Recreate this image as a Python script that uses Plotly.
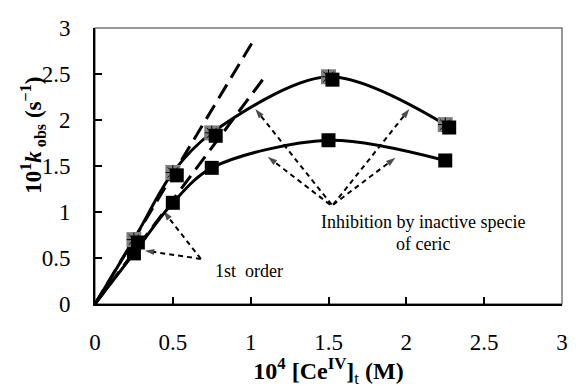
import plotly.graph_objects as go

# Data
conc = [0, 0.25, 0.5, 0.75, 1.5, 2.25]
k_series1 = [0, 0.55, 1.10, 1.48, 1.78, 1.56]
k_series2 = [0, 0.70, 1.43, 1.86, 2.47, 1.95]
marker_conc = [0.25, 0.5, 0.75, 1.5, 2.25]
marker_k1 = [0.55, 1.10, 1.48, 1.78, 1.56]
marker_k2 = [0.70, 1.43, 1.86, 2.47, 1.95]

# first-order (initial slope) lines
fo1_x = [0, 1.02]
fo1_y = [0, 2.87]
fo2_x = [0, 1.10]
fo2_y = [0, 2.49]

# dashed arrows (tail -> head)
arrows = [
    ([1.52, 1.03], [1.08, 2.12]),
    ([1.51, 1.11], [1.08, 1.60]),
    ([1.53, 2.02], [1.08, 2.12]),
    ([1.53, 1.93], [1.08, 1.59]),
    ([0.68, 0.32], [0.49, 0.58]),
    ([0.68, 0.44], [0.49, 1.01]),
]

xticks = [0, 0.5, 1, 1.5, 2, 2.5, 3]
yticks = [0, 0.5, 1, 1.5, 2, 2.5, 3]

FONT = "Liberation Serif, Times New Roman, DejaVu Serif, serif"

fig = go.Figure()

# dashed straight lines
fig.add_trace(go.Scatter(x=fo1_x, y=fo1_y, mode="lines",
                         line=dict(color="black", width=3, dash="16px,8px"),
                         showlegend=False, hoverinfo="skip"))
fig.add_trace(go.Scatter(x=fo2_x, y=fo2_y, mode="lines",
                         line=dict(color="black", width=3, dash="16px,8px"),
                         showlegend=False, hoverinfo="skip"))

# smooth curves
fig.add_trace(go.Scatter(x=conc, y=k_series1, mode="lines",
                         line=dict(color="black", width=3, shape="spline", smoothing=0.9),
                         showlegend=False, hoverinfo="skip"))
fig.add_trace(go.Scatter(x=conc, y=k_series2, mode="lines",
                         line=dict(color="black", width=3, shape="spline", smoothing=0.9),
                         showlegend=False, hoverinfo="skip"))

# dashed arrows
for ax_, ay_ in arrows:
    fig.add_trace(go.Scatter(x=ax_, y=ay_, mode="lines+markers",
                             line=dict(color="black", width=2, dash="5px,4px"),
                             marker=dict(symbol=["circle", "arrow"], size=[0, 10],
                                         angleref="previous", color="black",
                                         line=dict(width=0)),
                             showlegend=False, hoverinfo="skip"))

# shadows of the square markers (offset overlay axes)
fig.add_trace(go.Scatter(x=marker_conc, y=marker_k2, mode="markers", xaxis="x2", yaxis="y2",
                         marker=dict(symbol="square", size=14, color="black", line=dict(width=0)),
                         showlegend=False, hoverinfo="skip"))

# markers
fig.add_trace(go.Scatter(x=marker_conc, y=marker_k1, mode="markers",
                         marker=dict(symbol="square", size=14, color="black", line=dict(width=0)),
                         showlegend=False))
fig.add_trace(go.Scatter(x=marker_conc, y=marker_k2, mode="markers",
                         marker=dict(symbol="square", size=15, color="#808080", line=dict(width=0)),
                         showlegend=False))
fig.add_trace(go.Scatter(x=marker_conc, y=marker_k2, mode="markers",
                         marker=dict(symbol="asterisk-open", size=12, color="black",
                                     line=dict(width=1, color="black")),
                         showlegend=False, hoverinfo="skip"))

dx = 4 / 157.7
dy = 3 / 94.7

fig.update_layout(
    width=568, height=380,
    margin=dict(l=87, r=8, t=12, b=84),
    plot_bgcolor="white", paper_bgcolor="white",
    font=dict(family=FONT, color="black"),
    xaxis=dict(range=[0, 3], tickvals=xticks, ticktext=[f"{v:g}" for v in xticks],
               ticks="inside", ticklen=7, tickwidth=1.5, tickcolor="black",
               showline=True, linecolor="black", linewidth=2, showgrid=False, zeroline=False,
               tickfont=dict(size=23, family=FONT), ticklabelstandoff=16,
               title=dict(text="<b>10<sup>4</sup> [Ce<sup>IV</sup>]</b><sub>t</sub><b> (M)</b>",
                          font=dict(size=24, family=FONT), standoff=4)),
    yaxis=dict(range=[0, 3], tickvals=yticks, ticktext=[f"{v:g}" for v in yticks],
               ticks="inside", ticklen=7, tickwidth=1.5, tickcolor="black",
               showline=True, linecolor="black", linewidth=2, showgrid=False, zeroline=False,
               tickfont=dict(size=23, family=FONT), ticklabelstandoff=18),
    xaxis2=dict(range=[0 - dx, 3 - dx], overlaying="x", visible=False),
    yaxis2=dict(range=[0 + dy, 3 + dy], overlaying="y", visible=False),
    shapes=[dict(type="rect", xref="paper", yref="paper", x0=0, y0=0, x1=1, y1=1,
                 line=dict(color="#777777", width=1.5), layer="below")],
    annotations=[
        dict(x=-0.133, y=0.613, xref="paper", yref="paper", textangle=-90,
             xanchor="center", yanchor="middle",
             text="<b>10<sup>1</sup><i>k</i><sub> obs</sub> (s<sup>−1</sup>)</b>",
             showarrow=False, font=dict(size=23, family=FONT)),
        dict(x=0.99, y=0.36, text="1st  order", showarrow=False,
             font=dict(size=18, family=FONT)),
        dict(x=2.11, y=0.89, text="Inhibition by inactive specie", showarrow=False,
             font=dict(size=18, family=FONT)),
        dict(x=2.11, y=0.65, text="of ceric", showarrow=False,
             font=dict(size=18, family=FONT)),
    ],
)

fig.write_html("out.html")
